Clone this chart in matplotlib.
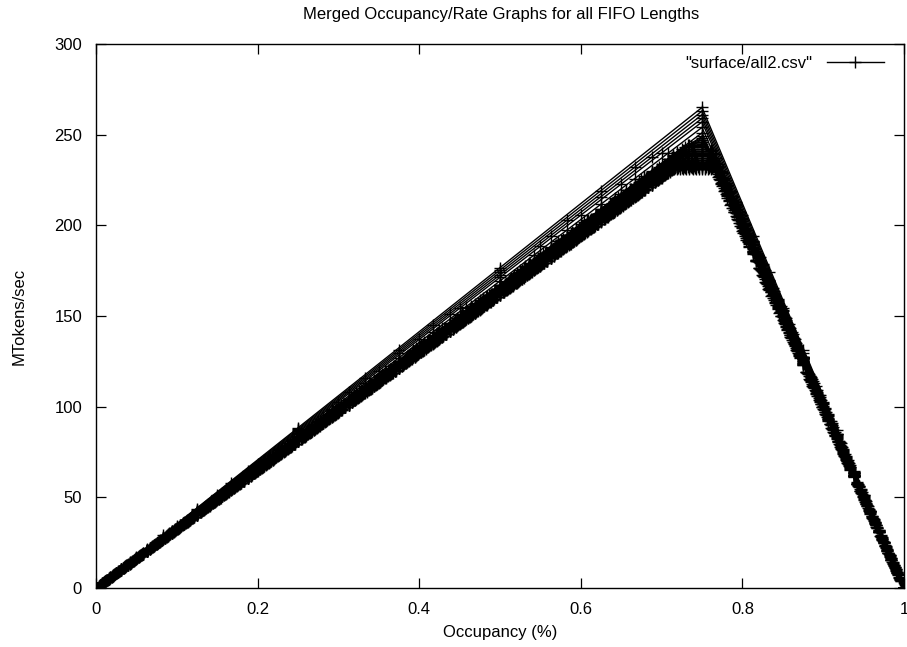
import numpy as np
import matplotlib
matplotlib.use("Agg")
import matplotlib.pyplot as plt

plt.rcParams['font.family'] = ['Liberation Sans', 'DejaVu Sans']

# one curve per FIFO length:
# rate rises with occupancy up to rise_end, holds at peak_rate, then falls to 0 at 1
fifo_len = [4, 8, 12, 16, 20, 24, 28,
            32, 40, 48, 56, 64, 72, 80, 88, 96, 104, 112, 120, 128,
            144, 160, 176, 192, 208, 224, 240, 256]
peak_rate = [265, 263, 261, 259, 257, 254, 251,
             249, 248, 247, 246, 245, 244, 243, 242, 241, 240, 239, 238, 237,
             236, 235, 234, 233, 232.5, 232, 231.5, 231]
rise_end = [0.75, 0.75, 0.75, 0.75, 0.75, 0.75, 0.75,
            0.745, 0.742, 0.74, 0.738, 0.736, 0.734, 0.732, 0.73, 0.728, 0.726, 0.725, 0.724, 0.723,
            0.722, 0.721, 0.72, 0.719, 0.718, 0.717, 0.716, 0.714]
fall_start = [0.75, 0.75, 0.75, 0.75, 0.75, 0.75, 0.75,
              0.755, 0.757, 0.758, 0.759, 0.76, 0.76, 0.761, 0.761, 0.762, 0.762, 0.763, 0.763, 0.763,
              0.764, 0.764, 0.764, 0.765, 0.765, 0.765, 0.765, 0.765]

fig = plt.figure(figsize=(9.07, 6.47), dpi=100)
ax = fig.add_axes([96/907, 1-588/647, (904-96)/907, (588-44)/647])

for n, pk, x1, x2 in zip(fifo_len, peak_rate, rise_end, fall_start):
    occ = np.arange(n + 1) / n          # fill levels of a FIFO of length n
    rate = np.where(occ <= x1, pk * occ / x1,
                    np.where(occ <= x2, pk, pk * (1 - occ) / (1 - x2)))
    ax.plot(occ, rate, color='black', lw=1.0, marker='+', ms=8, mew=1.0)

# legend entry (gnuplot style)
ax.plot([], [], color='black', lw=1.0, marker='+', ms=8, mew=1.0,
        label='"surface/all2.csv"')
ax.legend(loc='upper right', bbox_to_anchor=(0.983, 0.991), borderaxespad=0,
          frameon=False, markerfirst=False, fontsize=12,
          handlelength=3.4, handletextpad=0.9)

ax.set_xlim(0, 1)
ax.set_ylim(0, 300)
ax.set_xticks([0, 0.2, 0.4, 0.6, 0.8, 1])
ax.set_xticklabels(['0', '0.2', '0.4', '0.6', '0.8', '1'])
ax.set_yticks(range(0, 301, 50))
ax.tick_params(direction='in', length=7, width=0.9, top=True, right=True,
               labelsize=12, pad=10)
for s in ax.spines.values():
    s.set_linewidth(1.0)

ax.set_xlabel('Occupancy (%)', fontsize=12, labelpad=6)
ax.set_ylabel('MTokens/sec', fontsize=12, labelpad=20)
fig.text(501/907, 1-14/647, 'Merged Occupancy/Rate Graphs for all FIFO Lengths',
         ha='center', va='center', fontsize=12)

fig.savefig('out.png', dpi=100)
